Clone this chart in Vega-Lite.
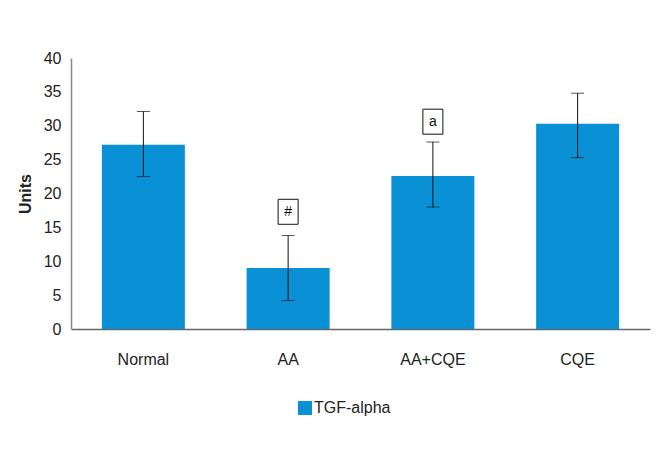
{
  "$schema": "https://vega.github.io/schema/vega-lite/v6.json",
  "autosize": "none",
  "width": 579,
  "height": 271,
  "padding": {"left": 71, "top": 58, "right": 19, "bottom": 140},
  "background": "white",
  "config": {
    "view": {"stroke": null},
    "font": "Liberation Sans",
    "axis": {"labelFont": "Liberation Sans", "titleFont": "Liberation Sans"}
  },
  "datasets": {
    "bars": [
      {"group": "Normal", "mean": 27.2, "lo": 22.5, "hi": 32.1, "series": "TGF-alpha"},
      {"group": "AA", "mean": 9.0, "lo": 4.2, "hi": 13.8, "series": "TGF-alpha"},
      {"group": "AA+CQE", "mean": 22.6, "lo": 18.0, "hi": 27.6, "series": "TGF-alpha"},
      {"group": "CQE", "mean": 30.3, "lo": 25.3, "hi": 34.8, "series": "TGF-alpha"}
    ],
    "notes": [
      {"group": "AA", "pos": 17.3, "note": "#"},
      {"group": "AA+CQE", "pos": 30.6, "note": "a"}
    ]
  },
  "encoding": {
    "x": {
      "field": "group", "type": "nominal", "sort": null,
      "scale": {"paddingInner": 0.43, "paddingOuter": 0.215},
      "axis": {
        "title": null, "labelAngle": 0, "ticks": false, "labelPadding": 22,
        "labelFontSize": 16, "labelColor": "#222", "domainColor": "#666", "domainWidth": 1.5
      }
    }
  },
  "layer": [
    {
      "data": {"name": "bars"},
      "mark": {"type": "bar", "width": 83},
      "encoding": {
        "y": {
          "field": "mean", "type": "quantitative",
          "scale": {"domain": [0, 40]},
          "axis": {
            "title": "Units", "titleFontSize": 16, "titleFontWeight": "bold", "titleColor": "#222",
            "titlePadding": 10, "values": [0, 5, 10, 15, 20, 25, 30, 35, 40], "labelOverlap": false,
            "grid": false, "ticks": false, "labelPadding": 10, "labelFontSize": 16,
            "labelColor": "#222", "domainColor": "#888", "domainWidth": 1.5
          }
        },
        "color": {
          "field": "series", "type": "nominal",
          "scale": {"range": ["#0a91d5"]},
          "legend": {
            "title": null, "orient": "none", "legendX": 226, "legendY": 342,
            "symbolType": "square", "symbolSize": 196, "symbolStrokeWidth": 0, "labelOffset": 1,
            "labelFontSize": 16, "labelColor": "#222", "labelFont": "Liberation Sans"
          }
        }
      }
    },
    {
      "data": {"name": "bars"},
      "mark": {"type": "rule", "color": "#111", "strokeWidth": 1},
      "encoding": {
        "y": {
          "field": "lo", "type": "quantitative",
          "axis": {
            "title": "Units", "titleFontSize": 16, "titleFontWeight": "bold", "titleColor": "#222",
            "titlePadding": 10, "values": [0, 5, 10, 15, 20, 25, 30, 35, 40], "labelOverlap": false,
            "grid": false, "ticks": false, "labelPadding": 10, "labelFontSize": 16,
            "labelColor": "#222", "domainColor": "#888", "domainWidth": 1.5
          }
        },
        "y2": {"field": "hi"}
      }
    },
    {
      "data": {"name": "bars"},
      "mark": {"type": "tick", "color": "#111", "orient": "horizontal", "size": 13, "thickness": 1},
      "encoding": {
        "y": {
          "field": "lo", "type": "quantitative",
          "axis": {
            "title": "Units", "titleFontSize": 16, "titleFontWeight": "bold", "titleColor": "#222",
            "titlePadding": 10, "values": [0, 5, 10, 15, 20, 25, 30, 35, 40], "labelOverlap": false,
            "grid": false, "ticks": false, "labelPadding": 10, "labelFontSize": 16,
            "labelColor": "#222", "domainColor": "#888", "domainWidth": 1.5
          }
        }
      }
    },
    {
      "data": {"name": "bars"},
      "mark": {"type": "tick", "color": "#111", "orient": "horizontal", "size": 13, "thickness": 1},
      "encoding": {
        "y": {
          "field": "hi", "type": "quantitative",
          "axis": {
            "title": "Units", "titleFontSize": 16, "titleFontWeight": "bold", "titleColor": "#222",
            "titlePadding": 10, "values": [0, 5, 10, 15, 20, 25, 30, 35, 40], "labelOverlap": false,
            "grid": false, "ticks": false, "labelPadding": 10, "labelFontSize": 16,
            "labelColor": "#222", "domainColor": "#888", "domainWidth": 1.5
          }
        }
      }
    },
    {
      "data": {"name": "notes"},
      "mark": {"type": "point", "shape": "M-0.8,-1H0.8V1H-0.8Z", "size": 625, "filled": false, "stroke": "#111", "strokeWidth": 1, "opacity": 1},
      "encoding": {
        "y": {
          "field": "pos", "type": "quantitative",
          "axis": {
            "title": "Units", "titleFontSize": 16, "titleFontWeight": "bold", "titleColor": "#222",
            "titlePadding": 10, "values": [0, 5, 10, 15, 20, 25, 30, 35, 40], "labelOverlap": false,
            "grid": false, "ticks": false, "labelPadding": 10, "labelFontSize": 16,
            "labelColor": "#222", "domainColor": "#888", "domainWidth": 1.5
          }
        }
      }
    },
    {
      "data": {"name": "notes"},
      "mark": {"type": "text", "fontSize": 14, "color": "#111", "font": "Liberation Sans", "baseline": "middle", "align": "center"},
      "encoding": {
        "y": {
          "field": "pos", "type": "quantitative",
          "axis": {
            "title": "Units", "titleFontSize": 16, "titleFontWeight": "bold", "titleColor": "#222",
            "titlePadding": 10, "values": [0, 5, 10, 15, 20, 25, 30, 35, 40], "labelOverlap": false,
            "grid": false, "ticks": false, "labelPadding": 10, "labelFontSize": 16,
            "labelColor": "#222", "domainColor": "#888", "domainWidth": 1.5
          }
        },
        "text": {"field": "note"}
      }
    }
  ]
}
